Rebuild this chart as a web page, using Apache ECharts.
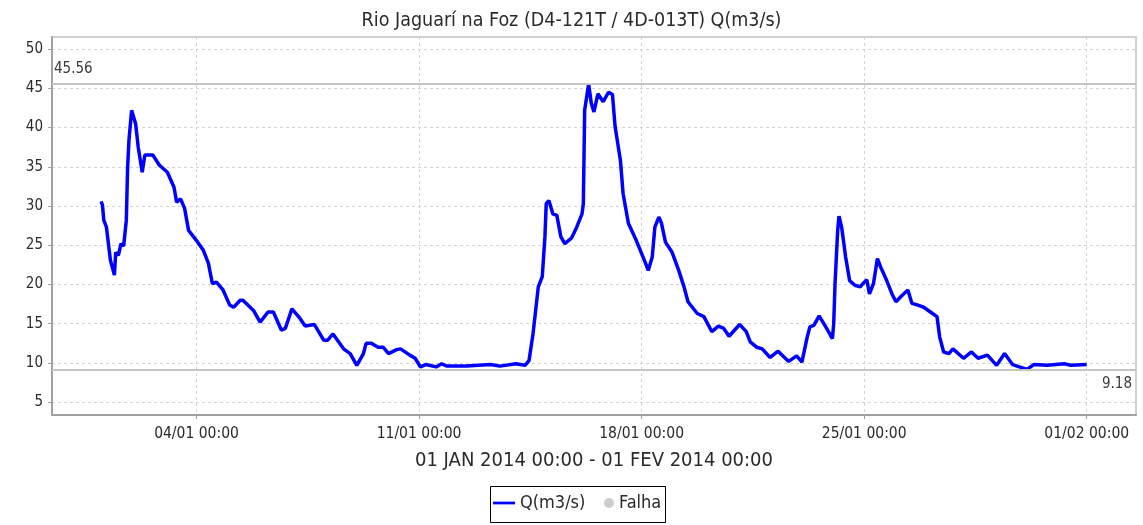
<!DOCTYPE html>
<html>
<head>
<meta charset="utf-8">
<title>Rio Jaguarí na Foz</title>
<script src="https://cdn.jsdelivr.net/npm/echarts@6/dist/echarts.min.js"></script>
<style>
  html, body { margin: 0; padding: 0; background: #fff; }
  #chart { width: 1143px; height: 525px; }
</style>
</head>
<body>
<div id="chart"></div>
<script>
// Hourly flow readings, hours counted from 01/01/2014 00:00
const hours = [
  0, 1, 2, 4, 5, 7, 10, 11, 13, 15, 17, 19, 20, 21, 23, 26, 28, 31, 33, 39,
  44, 50, 55, 57, 60, 63, 66, 72, 77, 81, 82, 84, 87, 92, 97, 100, 105, 107, 115, 120,
  126, 130, 136, 139, 144, 150, 154, 161, 168, 171, 175, 183, 188, 193, 198, 200, 204, 209, 213, 217,
  223, 226, 233, 237, 241, 245, 253, 257, 261, 276, 294, 301, 313, 320, 323, 326, 330, 333, 335, 336,
  338, 341, 344, 347, 350, 355, 359, 363, 364, 365, 368, 370, 372, 375, 379, 383, 386, 388, 392, 394,
  398, 404, 411, 413, 416, 418, 421, 423, 426, 431, 436, 440, 443, 450, 455, 461, 466, 470, 474, 482,
  487, 490, 495, 499, 505, 511, 519, 525, 529, 533, 535, 538, 542, 547, 552, 553, 554, 556, 557, 559,
  562, 565, 569, 573, 575, 578, 580, 583, 586, 589, 593, 597, 600, 604, 609, 612, 616, 621, 626, 631,
  633, 636, 640, 643, 651, 657, 662, 669, 676, 682, 688, 699, 704, 714, 727, 732, 744
];
const flow = [
  30.6, 30.1, 28.2, 27.3, 25.9, 23.1, 21.2, 24.1, 23.7, 25.2, 24.9, 28.2, 35.0, 38.4, 42.2, 40.5, 37.5, 34.3, 36.5, 36.5,
  35.2, 34.3, 32.4, 30.5, 30.9, 29.7, 26.9, 25.6, 24.4, 22.7, 21.8, 20.1, 20.3, 19.3, 17.4, 17.1, 18.0, 18.0, 16.7, 15.2,
  16.5, 16.5, 14.2, 14.4, 16.9, 15.7, 14.7, 14.9, 12.9, 12.9, 13.7, 11.8, 11.2, 9.7, 11.2, 12.5, 12.5, 12.0, 12.0, 11.2,
  11.7, 11.8, 11.0, 10.6, 9.5, 9.8, 9.5, 9.9, 9.6, 9.6, 9.8, 9.6, 9.9, 9.7, 10.3, 13.7, 19.7, 21.0, 26.1, 30.3,
  30.7, 29.0, 28.8, 26.1, 25.2, 25.9, 27.3, 29.0, 30.3, 42.2, 45.56, 43.1, 42.0, 44.3, 43.3, 44.5, 44.2, 40.1, 35.8, 31.6,
  27.8, 25.6, 22.7, 21.8, 23.5, 27.3, 28.6, 27.8, 25.4, 24.1, 21.8, 19.7, 17.8, 16.3, 15.9, 14.0, 14.7, 14.4, 13.4, 14.9,
  14.0, 12.7, 12.0, 11.8, 10.7, 11.5, 10.2, 10.9, 10.1, 13.3, 14.6, 14.8, 16.0, 14.6, 13.1, 15.0, 20.1, 26.9, 28.7, 27.3,
  23.5, 20.5, 19.9, 19.7, 20.1, 20.6, 18.8, 20.1, 23.3, 22.0, 20.5, 18.8, 17.8, 18.5, 19.3, 17.6, 17.4, 17.1, 16.5, 15.9,
  13.3, 11.4, 11.2, 11.8, 10.6, 11.4, 10.6, 11.0, 9.7, 11.2, 9.8, 9.18, 9.8, 9.7, 9.9, 9.7, 9.8
];
const maxFlow = 45.56;
const minFlow = 9.18;

// Axis ticks: weekly dates (hours from start) and flow values
const dateTicks = [72, 240, 408, 576, 744];
const flowTicks = [5, 10, 15, 20, 25, 30, 35, 40, 45, 50];

const chartTitle = 'Rio Jaguarí na Foz (D4-121T / 4D-013T) Q(m3/s)';
const periodLabel = '01 JAN 2014 00:00 - 01 FEV 2014 00:00';
const seriesName = 'Q(m3/s)';
const failName = 'Falha';

const START = Date.UTC(2014, 0, 1, 0, 0);
const pad2 = n => String(n).padStart(2, '0');
function fmtDate(h) {
  const d = new Date(START + h * 3600000);
  return pad2(d.getUTCDate()) + '/' + pad2(d.getUTCMonth() + 1) + ' ' +
         pad2(d.getUTCHours()) + ':' + pad2(d.getUTCMinutes());
}

const FONT = 'DejaVu Sans Condensed';
const TEXT = '#2a2a2a';
const chart = echarts.init(document.getElementById('chart'), null, { renderer: 'canvas' });

const legendText = { fontFamily: FONT, fontSize: 18, color: TEXT };

chart.setOption({
  animation: false,
  backgroundColor: '#ffffff',
  title: {
    text: chartTitle,
    left: 'center',
    top: 6,
    textStyle: { fontFamily: FONT, fontSize: 19.5, fontWeight: 'normal', color: TEXT }
  },
  legend: [
    {
      left: 493, top: 494, padding: 0,
      itemWidth: 22, itemHeight: 14,
      textStyle: legendText,
      data: [{ name: seriesName, icon: 'path://M0 0H24V3H0Z' }]
    },
    {
      left: 604, top: 494, padding: 0,
      itemWidth: 10, itemHeight: 10,
      textStyle: legendText,
      data: [{ name: failName, icon: 'circle' }]
    }
  ],
  graphic: [{
    type: 'rect',
    silent: true,
    shape: { x: 490.5, y: 486.5, width: 175, height: 36 },
    style: { fill: 'none', stroke: '#000', lineWidth: 1 }
  }],
  grid: {
    left: 52, right: 7, top: 37, bottom: 110,
    show: true,
    borderColor: '#d0d0d0',
    borderWidth: 2,
    containLabel: false
  },
  xAxis: {
    type: 'value',
    min: -37.1,
    max: 781.2,
    name: periodLabel,
    nameLocation: 'middle',
    nameGap: 36,
    nameTextStyle: { fontFamily: FONT, fontSize: 20, color: TEXT },
    axisLine: { show: true, onZero: false, lineStyle: { color: '#a0a0a0', width: 2 } },
    axisTick: { show: true, length: 4, customValues: dateTicks, lineStyle: { color: '#a0a0a0' } },
    axisLabel: {
      customValues: dateTicks,
      formatter: v => fmtDate(v),
      fontFamily: FONT, fontSize: 15.5, color: TEXT, margin: 11
    },
    splitLine: { show: true, lineStyle: { color: '#d4d4d4', type: [3, 3], width: 1 } }
  },
  yAxis: {
    type: 'value',
    min: 3.37,
    max: 51.54,
    axisLine: { show: true, onZero: false, lineStyle: { color: '#a0a0a0', width: 2 } },
    axisTick: { show: true, length: 4, customValues: flowTicks, lineStyle: { color: '#a0a0a0' } },
    axisLabel: {
      customValues: flowTicks,
      fontFamily: FONT, fontSize: 15, color: TEXT, margin: 9
    },
    splitLine: { show: true, lineStyle: { color: '#d4d4d4', type: [3, 3], width: 1 } }
  },
  series: [
    {
      name: seriesName,
      type: 'line',
      data: hours.map((h, i) => [h, flow[i]]),
      symbol: 'none',
      color: '#0000ff',
      lineStyle: { color: '#0000ff', width: 3.5 },
      markLine: {
        silent: true,
        symbol: ['none', 'none'],
        lineStyle: { color: '#c4c4c4', width: 2, type: 'solid' },
        label: { fontFamily: FONT, fontSize: 15, color: '#3a3a3a' },
        data: [
          { yAxis: maxFlow, label: { position: 'insideStartTop', formatter: String(maxFlow), distance: [2, 7] } },
          { yAxis: minFlow, label: { position: 'insideEndBottom', formatter: String(minFlow), distance: [4, 7] } }
        ]
      }
    },
    {
      name: failName,
      type: 'scatter',
      data: [],
      color: '#c0c0c0',
      itemStyle: { color: '#c0c0c0' }
    }
  ]
});
</script>
</body>
</html>
